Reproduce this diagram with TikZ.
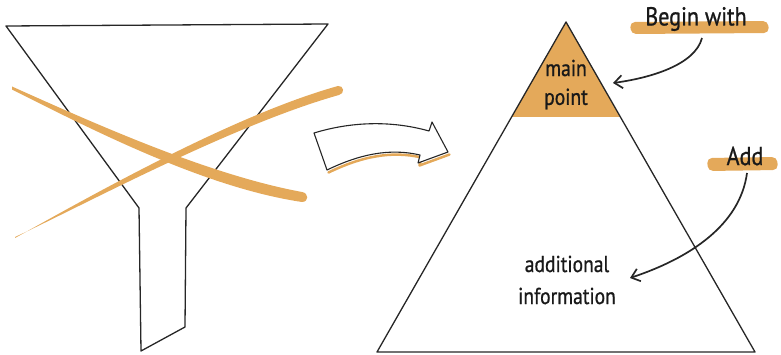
\documentclass[tikz,border=0pt]{standalone}
\usepackage{fontspec}
\setmainfont{PT Sans}
\newfontfamily\hand[FakeStretch=0.85,FakeBold=0.8]{PT Sans}
\usetikzlibrary{arrows.meta}
\definecolor{org}{HTML}{E4A95A}
\tikzset{
  outline/.style={draw=black!85, line width=1.3pt, line join=round},
  lbl/.style={font=\hand\fontsize{23}{25}\selectfont, text=black!90, inner sep=0pt},
  tag/.style={font=\hand\fontsize{26}{28}\selectfont, text=black!90, inner sep=0pt},
  hint/.style={draw=black!85, line width=1.7pt, -{Straight Barb[length=8pt,width=13pt,line width=1.7pt]}},
  brush/.style={fill=org, rounded corners=5pt}
}
\begin{document}
\begin{tikzpicture}[x=1pt,y=-1pt]
\useasboundingbox (0,0) rectangle (781,355);
% funnel
\draw[outline] (6,26) -- (328,24) -- (186,208) -- (185,327) -- (141,351) -- (139,208) -- cycle;
% crossing strokes
\fill[org] (12,86.5) .. controls (100,126) and (210,175) .. (302,192)
  .. controls (309,193) and (309,202) .. (302,202)
  .. controls (208,188) and (100,134) .. (12,89.5) -- cycle;
\fill[org] (15,238) .. controls (80,202) and (230,116) .. (338,86)
  .. controls (344,85) and (345,94) .. (339,95)
  .. controls (232,125) and (82,206) .. (15,237) -- cycle;
% middle arrow
\draw[org, line width=2.5pt, line cap=round, line join=round, shift={(1.5,2.5)}]
  (327,170) .. controls (360,154) and (390,148) .. (420,155) -- (418,163) -- (448,152);
\draw[outline, line width=1.1pt, fill=white] (314,133) .. controls (350,122) and (390,120) .. (429,131)
  -- (432,122) -- (448,152) -- (418,163) -- (420,155)
  .. controls (390,148) and (360,154) .. (327,170) -- cycle;
% triangle
\fill[org] (566,22) -- (620,117) -- (512,117) -- cycle;
\draw[outline] (566,22) -- (755,352) -- (377,352) -- cycle;
\node[lbl] (mp1) at (566,68) {main};
\node[lbl] (mp2) at (566,99) {point};
\node[lbl] (ad1) at (567,264) {additional};
\node[lbl] (ad2) at (567,296) {information};
% labels with brush
\fill[brush] (630,22) -- (768,21) -- (769,33) -- (631,34) -- cycle;
\node[tag] (bw) at (696,19) {Begin with};
\fill[brush] (707,158) -- (777,157) -- (778,170) -- (708,171) -- cycle;
\node[tag] (add) at (745,156) {Add};
\coordinate (bwe) at (613,83);
\coordinate (ade) at (630,278);
\coordinate (bws) at (702,38);
\coordinate (ads) at (747,173);
\draw[hint] (bws) .. controls (695,65) and (650,78) .. (bwe);
\draw[hint] (ads) .. controls (740,225) and (690,258) .. (ade);
\end{tikzpicture}
\end{document}
